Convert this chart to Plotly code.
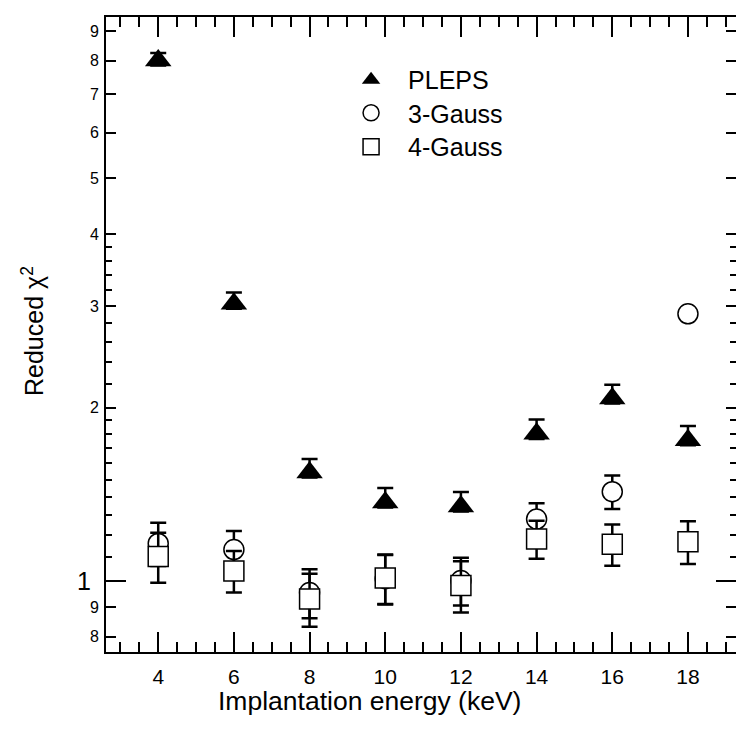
import plotly.graph_objects as go
import math

# ---- data ----
energy = [4, 6, 8, 10, 12, 14, 16, 18]
pleps = [8.01, 3.03, 1.543, 1.369, 1.347, 1.801, 2.074, 1.756]
pleps_err_up = [0.24, 0.14, 0.085, 0.082, 0.08, 0.106, 0.118, 0.102]
pleps_err_down = [0.16, 0.06, 0.03, 0.027, 0.027, 0.036, 0.04, 0.035]
gauss3 = [1.162, 1.134, 0.955, 1.01, 1.002, 1.281, 1.429, 2.91]
gauss3_err = [0.10, 0.087, 0.093, 0.10, 0.095, 0.083, 0.095, 0.04]
gauss4 = [1.103, 1.041, 0.931, 1.012, 0.982, 1.183, 1.158, 1.170]
gauss4_err = [0.11, 0.086, 0.098, 0.10, 0.10, 0.09, 0.095, 0.10]

x_ticks = [4, 6, 8, 10, 12, 14, 16, 18]
y_major = [0.8, 0.9, 2, 3, 4, 5, 6, 7, 8, 9]
y_major_text = ["8", "9", "2", "3", "4", "5", "6", "7", "8", "9"]
y_minor = [1.1, 1.2, 1.3, 1.4, 1.5, 1.6, 1.7, 1.8, 1.9,
           2.2, 2.4, 2.6, 2.8, 3.2, 3.4, 3.6, 3.8]

x_title = "Implantation energy (keV)"
y_title = "Reduced χ<sup>2</sup>"

FONT = "Liberation Sans, Arial, Helvetica, sans-serif"

def err(up, down=None):
    d = dict(type="data", array=up, color="black", thickness=2.5, width=8)
    if down is None:
        d["symmetric"] = True
    else:
        d["symmetric"] = False
        d["arrayminus"] = down
    return d

fig = go.Figure()
fig.add_trace(go.Scatter(
    x=energy, y=pleps, mode="markers", name="PLEPS", legend="legend",
    marker=dict(symbol="triangle-up", size=23, color="black",
                line=dict(color="black", width=0)),
    error_y=err(pleps_err_up, pleps_err_down)))
fig.add_trace(go.Scatter(
    x=energy, y=gauss3, mode="markers", name="3-Gauss", legend="legend2",
    marker=dict(symbol="circle", size=20, color="white",
                line=dict(color="black", width=1.5)),
    error_y=err(gauss3_err)))
fig.add_trace(go.Scatter(
    x=energy, y=gauss4, mode="markers", name="4-Gauss", legend="legend3",
    marker=dict(symbol="square", size=20, color="white",
                line=dict(color="black", width=1.5)),
    error_y=err(gauss4_err)))
# invisible carrier traces for the overlay axes (extra tick sets)
for ax in ("y2", "y3"):
    fig.add_trace(go.Scatter(x=[energy[0]], y=[1], yaxis=ax, mode="markers",
                             marker=dict(opacity=0), showlegend=False,
                             hoverinfo="skip"))

yr = [math.log10(0.753), math.log10(9.53)]
tick_common = dict(ticks="inside", tickwidth=2, tickcolor="black",
                   showgrid=False, zeroline=False)

def leg(y):
    return dict(x=0.362, y=y, xanchor="left", yanchor="middle",
                bgcolor="rgba(0,0,0,0)", font=dict(size=25, family=FONT),
                itemsizing="trace", itemwidth=64)

fig.update_layout(
    width=736, height=744,
    margin=dict(l=106, r=0, t=17, b=92),
    paper_bgcolor="white", plot_bgcolor="white",
    font=dict(family=FONT, color="black"),
    showlegend=True,
    legend=leg(0.9008), legend2=leg(0.8488), legend3=leg(0.7953),
    xaxis=dict(range=[2.62, 19.27], tickmode="array", tickvals=x_ticks,
               ticklen=20, showline=True, linewidth=2, linecolor="black",
               mirror="ticks", tickfont=dict(size=21, family=FONT),
               ticklabelstandoff=5,
               minor=dict(dtick=0.5, tick0=0, ticks="inside", ticklen=10,
                          tickwidth=2, tickcolor="black", showgrid=False),
               **tick_common),
    yaxis=dict(type="log", range=yr, tickmode="array", tickvals=y_major,
               ticktext=y_major_text, ticklen=10,
               showline=True, linewidth=2, linecolor="black", mirror=False,
               tickfont=dict(size=16, family=FONT), ticklabelstandoff=2,
               minor=dict(tickmode="array", tickvals=y_minor, ticks="inside",
                          ticklen=6, tickwidth=2, tickcolor="black",
                          showgrid=False),
               **tick_common),
    yaxis2=dict(type="log", range=yr, overlaying="y", side="left",
                tickmode="array", tickvals=[1], ticktext=["1"], ticklen=20,
                showline=False, mirror="ticks",
                tickfont=dict(size=25, family=FONT), ticklabelstandoff=14,
                **tick_common),
    yaxis3=dict(type="log", range=yr, overlaying="y", side="right",
                tickmode="array", tickvals=y_major, ticklen=10,
                showline=False, showticklabels=False,
                minor=dict(tickmode="array", tickvals=y_minor, ticks="inside",
                           ticklen=6, tickwidth=2, tickcolor="black",
                           showgrid=False),
                **tick_common),
    annotations=[
        dict(text=x_title, xref="paper", yref="paper", x=0.4175, y=-0.0775,
             xanchor="center", yanchor="middle", showarrow=False,
             font=dict(size=26.5, family=FONT)),
        dict(text=y_title, xref="paper", yref="paper", x=-0.1159, y=0.5055,
             xanchor="center", yanchor="middle", showarrow=False,
             textangle=-90, font=dict(size=25, family=FONT)),
    ],
)

fig.write_html("out.html")
